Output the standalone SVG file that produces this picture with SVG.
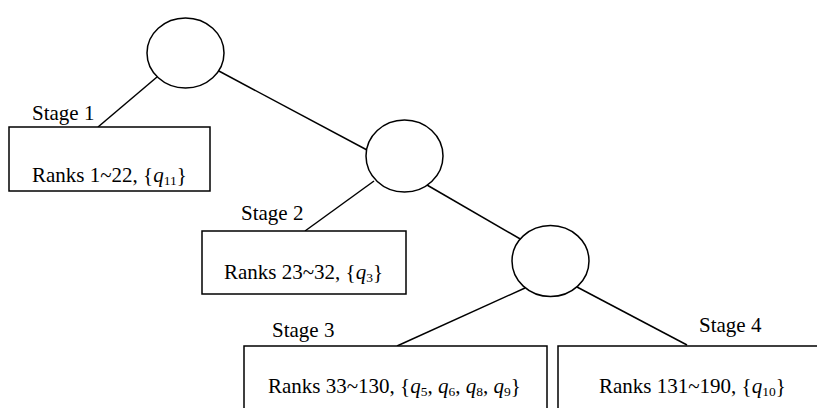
<svg xmlns="http://www.w3.org/2000/svg" width="817" height="408" viewBox="0 0 817 408">
<style>
  .shape { fill: #ffffff; stroke: #000000; stroke-width: 1.5; }
  .edge { stroke: #000000; stroke-width: 1.5; fill: none; }
  text { font-family: "Liberation Serif", "Times New Roman", serif; font-size: 21px; fill: #000000; }
  .it { font-style: italic; }
  .sub { font-size: 13.5px; }
</style>
<rect width="817" height="408" fill="#ffffff"/>
<g id="connectors">
  <line class="edge" x1="157" y1="77" x2="98" y2="127"/>
  <line class="edge" x1="217" y1="70" x2="367" y2="150"/>
  <line class="edge" x1="374" y1="181" x2="305" y2="231"/>
  <line class="edge" x1="427" y1="185" x2="522" y2="240"/>
  <line class="edge" x1="525" y1="288" x2="397" y2="346"/>
  <line class="edge" x1="577" y1="287" x2="687" y2="345"/>
</g>
<g id="node-root">
  <ellipse class="shape" cx="185.5" cy="53" rx="38.5" ry="35"/>
</g>
<g id="node-split2">
  <ellipse class="shape" cx="404.5" cy="156" rx="38.5" ry="36"/>
</g>
<g id="node-split3">
  <ellipse class="shape" cx="550.5" cy="261" rx="38.5" ry="35.5"/>
</g>
<g id="node-stage1">
  <rect class="shape" x="9" y="127" width="201" height="64"/>
  <text x="32" y="120">Stage 1</text>
  <text x="32" y="182">Ranks 1~22, {<tspan class="it">q</tspan><tspan class="sub" dy="3">11</tspan><tspan dy="-3">}</tspan></text>
</g>
<g id="node-stage2">
  <rect class="shape" x="202" y="231" width="204" height="63"/>
  <text x="241" y="220">Stage 2</text>
  <text x="224" y="279">Ranks 23~32, {<tspan class="it">q</tspan><tspan class="sub" dy="3">3</tspan><tspan dy="-3">}</tspan></text>
</g>
<g id="node-stage3">
  <rect class="shape" x="244" y="346" width="303" height="70"/>
  <text x="272" y="337">Stage 3</text>
  <text x="268" y="393">Ranks 33~130, {<tspan class="it">q</tspan><tspan class="sub" dy="3">5</tspan><tspan dy="-3">, </tspan><tspan class="it">q</tspan><tspan class="sub" dy="3">6</tspan><tspan dy="-3">, </tspan><tspan class="it">q</tspan><tspan class="sub" dy="3">8</tspan><tspan dy="-3">, </tspan><tspan class="it">q</tspan><tspan class="sub" dy="3">9</tspan><tspan dy="-3">}</tspan></text>
</g>
<g id="node-stage4">
  <rect class="shape" x="558" y="346" width="270" height="70"/>
  <text x="699" y="332">Stage 4</text>
  <text x="599" y="393">Ranks 131~190, {<tspan class="it">q</tspan><tspan class="sub" dy="3">10</tspan><tspan dy="-3">}</tspan></text>
</g>
</svg>
